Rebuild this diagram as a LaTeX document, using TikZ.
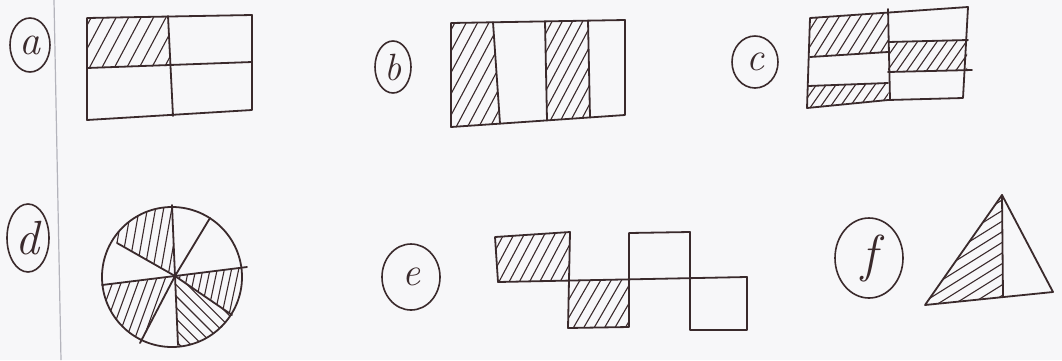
\documentclass[tikz,border=0pt]{standalone}
\usetikzlibrary{calc}
\definecolor{ink}{HTML}{3A2A2C}
\definecolor{paper}{HTML}{F7F7F9}
\definecolor{margin}{HTML}{B4B4BC}
\tikzset{
  outline/.style={draw=ink, line width=1.8pt, line join=round, line cap=round},
  hatchline/.style={draw=ink, line width=1.1pt, line cap=round},
  labelring/.style={draw=ink, line width=1.6pt, ellipse, inner sep=0pt, text=ink},
}
\usetikzlibrary{shapes.geometric}
\newcommand\hatchit[4]{%
  \begin{scope}
    \clip #1;
    \begin{scope}[shift={#2}, rotate=#3]
      \foreach \k in {-25,...,25} \draw[hatchline] (\k*#4,-220) -- (\k*#4,220);
    \end{scope}
  \end{scope}}
\begin{document}
\begin{tikzpicture}[x=1pt,y=-1pt]
\useasboundingbox (0,0) rectangle (1062,360);
\fill[paper] (0,0) rectangle (1062,360);
\draw[margin, line width=1.2pt] (54,0) -- (61,360);

% ---------- (a)
\node[labelring, minimum width=40pt, minimum height=54pt] (la) at (30,45)
  {\fontsize{42}{42}\selectfont\itshape a};
\hatchit{(87,18) -- (168,16) -- (169,66) -- (87,68) -- cycle}{(128,42)}{-28}{11}
\draw[outline] (87,18) -- (252,15) -- (252,110) -- (87,120) -- cycle;
\draw[outline] (87,68) -- (252,62);
\draw[outline] (168,16) -- (173,116);

% ---------- (b)
\node[labelring, minimum width=36pt, minimum height=52pt] (lb) at (393,67)
  {\fontsize{38}{38}\selectfont\itshape b};
\hatchit{(451,23) -- (493,22.3) -- (500,123.6) -- (451,127) -- cycle}{(474,72)}{-28}{10}
\hatchit{(545,21.4) -- (588,20.6) -- (590,117.4) -- (547,120.4) -- cycle}{(567,70)}{-28}{9}
\draw[outline] (451,23) -- (625,20) -- (625,115) -- (451,127) -- cycle;
\draw[outline] (493,22.3) -- (500,123.6);
\draw[outline] (545,21.4) -- (547,120.4);
\draw[outline] (588,20.6) -- (590,117.4);

% ---------- (c)
\node[labelring, minimum width=46pt, minimum height=52pt] (lc) at (755,62)
  {\fontsize{40}{40}\selectfont\itshape c};
\hatchit{(810,18) -- (888,12.6) -- (888,52) -- (810,57) -- cycle}{(849,35)}{-32}{9}
\hatchit{(808,86) -- (888,83) -- (889,100) -- (808,108) -- cycle}{(849,94)}{-35}{8}
\hatchit{(888,42) -- (967,40) -- (967,70.5) -- (888,72) -- cycle}{(927,56)}{-35}{8}
\draw[outline] (810,18) -- (968,7) -- (963,98) -- (888,100) -- (807,108) -- cycle;
\draw[outline] (888,9) -- (890,100);
\draw[outline] (810,57) -- (888,52);
\draw[outline] (808,86) -- (888,83);
\draw[outline] (888,42) -- (968,40);
\draw[outline] (888,72) -- (972,70);

% ---------- (d)
\node[labelring, minimum width=42pt, minimum height=68pt] (ld) at (28,238)
  {\fontsize{48}{48}\selectfont\itshape d};
\coordinate (O) at (175,276);
\begin{scope}
  \clip (172,277) circle (70);
  \hatchit{(O) -- (59,210) -- (169,134) -- cycle}{(150,240)}{-10}{8}
  \hatchit{(O) -- (29,294) -- (105,410) -- cycle}{(130,305)}{-20}{8}
  \hatchit{(O) -- (319,258) -- (289,354) -- cycle}{(220,290)}{-12}{7}
  \hatchit{(O) -- (289,354) -- (181,414) -- cycle}{(200,320)}{45}{8}
\end{scope}
\draw[outline] (172,277) circle (70);
\foreach \p in {(172,205),(210,218),(247,267),(232,315),(178,345),(140,343),(102,285),(117,243)}
  \draw[outline] (O) -- \p;

% ---------- (e)
\node[labelring, minimum width=58pt, minimum height=66pt] (le) at (411,277)
  {\fontsize{40}{40}\selectfont\itshape e};
\hatchit{(495,237) -- (569,232) -- (569,280) -- (498,282) -- cycle}{(532,258)}{-28}{9}
\hatchit{(568,280) -- (629,279) -- (629,327) -- (568,328) -- cycle}{(598,303)}{-30}{9}
\draw[outline] (498,282) -- (495,237) -- (570,232) -- (568,328) -- (629,327) -- (629,233) -- (690,232) -- (690,330) -- (747,330) -- (747,277);
\draw[outline] (498,282) -- (747,277);

% ---------- (f)
\node[labelring, minimum width=68pt, minimum height=80pt] (lf) at (869,258)
  {\fontsize{52}{52}\selectfont\itshape f};
\hatchit{(1002,195) -- (925,305) -- (1003,297) -- cycle}{(975,270)}{-58}{9}
\draw[outline] (1002,195) -- (925,305) -- (1053,292) -- cycle;
\draw[outline] (1002,195) -- (1003,297);
\end{tikzpicture}
\end{document}
